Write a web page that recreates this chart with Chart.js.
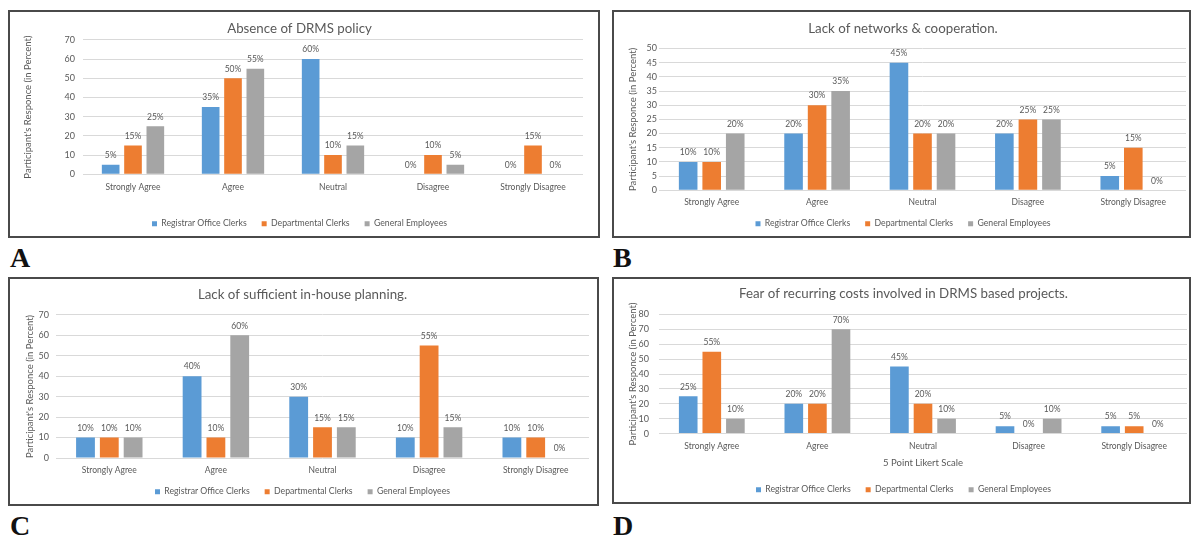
<!DOCTYPE html>
<html>
<head>
<meta charset="utf-8">
<script src="https://cdn.jsdelivr.net/npm/chart.js@4.4.1/dist/chart.umd.min.js"></script>
<style>
  html, body { margin: 0; padding: 0; background: #ffffff; }
  body { width: 1194px; height: 539px; position: relative; overflow: hidden; }
  .panel { position: absolute; }
  .panel canvas { position: absolute; left: 0; top: 0; }
  .frame { position: absolute; left: 0; top: 0; right: 0; bottom: 0; border: 2px solid #4a4a4a; box-sizing: border-box; pointer-events: none; }
  .tag { position: absolute; font-family: "Liberation Serif", "Times New Roman", serif; font-weight: bold; font-size: 28px; line-height: 28px; color: #111111; }
</style>
</head>
<body>
<div class="panel" id="panelA"><canvas id="chartA"></canvas><div class="frame"></div></div>
<div class="panel" id="panelB"><canvas id="chartB"></canvas><div class="frame"></div></div>
<div class="panel" id="panelC"><canvas id="chartC"></canvas><div class="frame"></div></div>
<div class="panel" id="panelD"><canvas id="chartD"></canvas><div class="frame"></div></div>
<div class="tag" style="left:10px;top:244px;">A</div>
<div class="tag" style="left:613px;top:244px;">B</div>
<div class="tag" style="left:10px;top:512px;">C</div>
<div class="tag" style="left:613px;top:512px;">D</div>
<script>
// Likert categories and respondent groups
const categories = ['Strongly Agree', 'Agree', 'Neutral', 'Disagree', 'Strongly Disagree'];
const seriesNames = ['Registrar Office Clerks', 'Departmental Clerks', 'General Employees'];

// A: Absence of DRMS policy
const titleA = 'Absence of DRMS policy';
const registrarA = [5, 35, 60, 0, 0];
const departmentalA = [15, 50, 10, 10, 15];
const generalA = [25, 55, 15, 5, 0];
const yTicksA = [0, 10, 20, 30, 40, 50, 60, 70];

// B: Lack of networks & cooperation
const titleB = 'Lack of networks & cooperation.';
const registrarB = [10, 20, 45, 20, 5];
const departmentalB = [10, 30, 20, 25, 15];
const generalB = [20, 35, 20, 25, 0];
const yTicksB = [0, 5, 10, 15, 20, 25, 30, 35, 40, 45, 50];

// C: Lack of sufficient in-house planning
const titleC = 'Lack of sufficient in-house planning.';
const registrarC = [10, 40, 30, 10, 10];
const departmentalC = [10, 10, 15, 55, 10];
const generalC = [10, 60, 15, 15, 0];
const yTicksC = [0, 10, 20, 30, 40, 50, 60, 70];

// D: Fear of recurring costs
const titleD = 'Fear of recurring costs involved in DRMS based projects.';
const registrarD = [25, 20, 45, 5, 5];
const departmentalD = [55, 20, 20, 0, 5];
const generalD = [10, 70, 10, 10, 0];
const yTicksD = [0, 10, 20, 30, 40, 50, 60, 70, 80];

const yAxisTitle = "Participant's Responce (in Percent)";
const xAxisTitleD = '5 Point Likert Scale';

const seriesColors = ['#5B9BD5', '#ED7D31', '#A5A5A5'];
const FONT = 'Lato, "Open Sans", sans-serif';
const TEXT = '#595959';
const GRID = '#D9D9D9';

// Percent labels above each bar, placed from the bar elements
const valueLabels = {
  id: 'valueLabels',
  afterDatasetsDraw(chart) {
    const ctx = chart.ctx;
    ctx.save();
    ctx.font = '8.5px ' + FONT;
    ctx.fillStyle = TEXT;
    ctx.textAlign = 'center';
    ctx.textBaseline = 'middle';
    chart.data.datasets.forEach((ds, i) => {
      const meta = chart.getDatasetMeta(i);
      meta.data.forEach((bar, j) => {
        ctx.fillText(ds.data[j] + '%', bar.x, bar.y - 9.5);
      });
    });
    ctx.restore();
  }
};

function buildChart(id, box, title, series, yTicks, lay) {
  const panel = document.getElementById('panel' + id);
  panel.style.left = box.x + 'px';
  panel.style.top = box.y + 'px';
  panel.style.width = box.w + 'px';
  panel.style.height = box.h + 'px';
  const canvas = document.getElementById('chart' + id);
  canvas.width = box.w;
  canvas.height = box.h;

  const yMax = yTicks[yTicks.length - 1];
  const yStep = yTicks[1] - yTicks[0];

  return new Chart(canvas, {
    type: 'bar',
    data: {
      labels: categories,
      datasets: series.map((values, i) => ({
        label: seriesNames[i],
        data: values,
        backgroundColor: seriesColors[i],
        borderWidth: 0,
        categoryPercentage: 0.67,
        barPercentage: 0.79
      }))
    },
    options: {
      responsive: false,
      animation: false,
      devicePixelRatio: 1,
      layout: { padding: { left: lay.padLeft, right: lay.padRight, top: 0, bottom: 0 } },
      plugins: {
        title: {
          display: true,
          text: title,
          color: TEXT,
          font: { family: FONT, size: 13.3, weight: 'normal', lineHeight: 1.2 },
          padding: { top: lay.titleTop, bottom: lay.titleBottom }
        },
        legend: {
          position: 'bottom',
          labels: {
            boxWidth: 5,
            boxHeight: 5,
            padding: 15,
            color: TEXT,
            font: { family: FONT, size: 8.7 }
          }
        },
        tooltip: { enabled: false }
      },
      scales: {
        x: {
          grid: { display: false, drawTicks: false },
          border: { display: false },
          ticks: { color: TEXT, font: { family: FONT, size: 8.5 }, padding: lay.xTickPad, maxRotation: 0, autoSkip: false },
          title: lay.xTitle ? {
            display: true, text: lay.xTitle, color: TEXT,
            font: { family: FONT, size: 9.5 }, padding: { top: 0, bottom: lay.xTitleBottom }
          } : { display: false },
          afterFit(scale) {
            scale.height = lay.xHeight;
            // category labels may run slightly past the axis band; keep them whole
            scale._computeLabelArea = () => null;
          }
        },
        y: {
          min: 0,
          max: yMax,
          grid: { color: GRID, lineWidth: 1, drawTicks: false },
          border: { display: false },
          ticks: { stepSize: yStep, color: TEXT, font: { family: FONT, size: 9 }, padding: lay.yTickPad },
          title: {
            display: true, text: yAxisTitle, color: TEXT,
            font: { family: FONT, size: 9.5 }, padding: { top: lay.yTitleTop, bottom: 0 }
          },
          afterFit(scale) { scale.width = lay.yWidth; }
        }
      }
    },
    plugins: [valueLabels]
  });
}

buildChart('A', { x: 8, y: 10, w: 592, h: 228 }, titleA, [registrarA, departmentalA, generalA], yTicksA,
  { padLeft: 8, padRight: 17, titleTop: 10.6, titleBottom: 3.3, yWidth: 67, yTitleTop: 6.3, yTickPad: 8, xHeight: 30, xTickPad: 7.6 });

buildChart('B', { x: 612, y: 10, w: 579, h: 228 }, titleB, [registrarB, departmentalB, generalB], yTicksB,
  { padLeft: 8, padRight: 5, titleTop: 10.6, titleBottom: 11.9, yWidth: 39, yTitleTop: 7.3, yTickPad: 2, xHeight: 14, xTickPad: 6.6 });

buildChart('C', { x: 8, y: 277, w: 591, h: 229 }, titleC, [registrarC, departmentalC, generalC], yTicksC,
  { padLeft: 8, padRight: 10, titleTop: 9.6, titleBottom: 12.3, yWidth: 40, yTitleTop: 8.3, yTickPad: 7, xHeight: 14.3, xTickPad: 6.9 });

buildChart('D', { x: 612, y: 277, w: 579, h: 227 }, titleD, [registrarD, departmentalD, generalD], yTicksD,
  { padLeft: 8, padRight: 4, titleTop: 8.6, titleBottom: 12.9, yWidth: 39, yTitleTop: 7.3, yTickPad: 10, xHeight: 36.7, xTickPad: 7.3,
    xTitle: xAxisTitleD, xTitleBottom: 2 });
</script>
</body>
</html>
